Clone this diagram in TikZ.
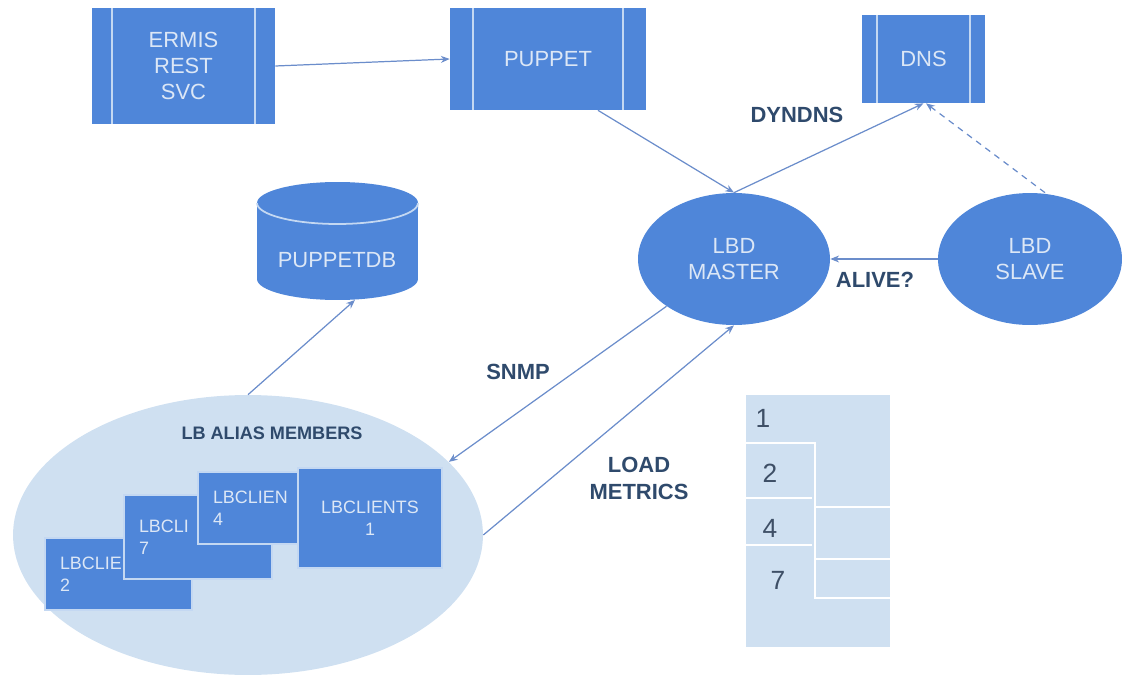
\documentclass[tikz,border=0pt]{standalone}
\usepackage{fontspec}
\setmainfont{Liberation Sans}
\usetikzlibrary{arrows.meta,shapes.geometric}

\definecolor{boxblue}{HTML}{4F86D9}
\definecolor{paleblue}{HTML}{CFE0F1}
\definecolor{boxtext}{HTML}{DCE7F6}
\definecolor{labelblue}{HTML}{2F4A6C}
\definecolor{arrowblue}{HTML}{6B8DCB}
\definecolor{numgrey}{HTML}{3E4F66}
\definecolor{rimline}{HTML}{C4D8F2}

\tikzset{
  svcbox/.style={rectangle, fill=boxblue, text=boxtext, align=center, inner sep=0pt,
    font=\fontsize{12.5}{14.7}\selectfont,
    path picture={
      \draw[rimline, line width=1pt] ([xshift=#1]path picture bounding box.north west)
        -- ([xshift=#1]path picture bounding box.south west);
      \draw[rimline, line width=1pt] ([xshift=-#1]path picture bounding box.north east)
        -- ([xshift=-#1]path picture bounding box.south east);}},
  lbdnode/.style={ellipse, fill=boxblue, text=boxtext, align=center, inner sep=0pt,
    font=\fontsize{12.5}{14.7}\selectfont},
  clientbox/.style={rectangle, fill=boxblue, draw=rimline, line width=0.6pt, text=boxtext,
    inner xsep=0.3cm, inner ysep=0pt, align=left, font=\fontsize{10.2}{12.5}\selectfont},
  flowarrow/.style={draw=arrowblue, line width=0.7pt, -{Stealth[length=5pt,width=4pt]}},
  flowlabel/.style={text=labelblue, align=center, font=\bfseries\fontsize{12.5}{15.3}\selectfont},
  tablenum/.style={text=numgrey, inner sep=0pt, font=\fontsize{15}{18}\selectfont}
}

\begin{document}
\begin{tikzpicture}[x=0.02cm, y=0.02cm]
  \useasboundingbox (0,0) rectangle (1134,-676);

  % services
  \node[svcbox=0.4cm, minimum width=3.66cm, minimum height=2.32cm] (ermis) at (183.5,-66) {ERMIS\\REST\\SVC};
  \node[svcbox=0.46cm, minimum width=3.92cm, minimum height=2.04cm] (puppet) at (548,-59) {PUPPET};
  \node[svcbox=0.3cm, minimum width=2.46cm, minimum height=1.76cm] (dns) at (923.5,-59) {DNS};

  % lbd daemons
  \node[lbdnode, minimum width=3.84cm, minimum height=2.64cm] (master) at (734,-259) {LBD\\MASTER};
  \node[lbdnode, minimum width=3.68cm, minimum height=2.64cm] (slave) at (1030,-259) {LBD\\SLAVE};

  % puppetdb cylinder
  \fill[boxblue] (257,-203) -- (257,-279)
    arc[start angle=180, end angle=360, x radius=1.61cm, y radius=0.42cm]
    -- (418,-203) arc[start angle=0, end angle=180, x radius=1.61cm, y radius=0.42cm] -- cycle;
  \draw[rimline, line width=1pt] (257,-203)
    arc[start angle=180, end angle=360, x radius=1.61cm, y radius=0.42cm];
  \node[text=boxtext, font=\fontsize{12.5}{15}\selectfont] (puppetdb) at (337,-260) {PUPPETDB};
  \coordinate (dbbottom) at (355,-300);

  % alias members, each box partly hidden by the next one
  \node[ellipse, fill=paleblue, minimum width=9.4cm, minimum height=5.6cm, inner sep=0pt] (alias) at (248,-535) {};
  \foreach \n/\txt/\cx/\cy/\w/\h/\tw in {2/LBCLIE/118.5/-574/2.94/1.44/2.34, 7/LBCLI/198/-537/2.96/1.68/2.36, 4/LBCLIEN/272/-508/2.96/1.44/2.36}
    \node[clientbox, minimum width=\w cm, minimum height=\h cm, text width=\tw cm] (client\n) at (\cx,\cy) {\txt\\\n};
  \node[clientbox, align=center, minimum width=2.88cm, minimum height=2cm, text width=2.28cm] (client1) at (370,-518) {LBCLIENTS\\1};
  \node[flowlabel, font=\bfseries\fontsize{10.3}{12}\selectfont] (aliaslabel) at (272,-433) {LB ALIAS MEMBERS};

  % table of members
  \fill[paleblue] (746,-395) rectangle (890,-647);
  \draw[white, line width=1.2pt] (746,-443) -- (815,-443) -- (815,-598) -- (890,-598);
  \foreach \y in {-498,-545}
    \draw[white, line width=1.2pt] (746,\y) -- (812,\y);
  \foreach \y in {-507,-559}
    \draw[white, line width=1.2pt] (815,\y) -- (890,\y);
  \node[tablenum] (num1) at (763,-418) {1};
  \node[tablenum] (num2) at (770,-473) {2};
  \node[tablenum] (num4) at (770,-528) {4};
  \node[tablenum] (num7) at (778,-580) {7};

  % connectors
  \draw[flowarrow] (ermis.east) -- (puppet.west);
  \draw[flowarrow] ([xshift=1cm]puppet.south) -- (master.north);
  \draw[flowarrow] (master.north) -- (dns.south);
  \draw[flowarrow, dash pattern=on 3.5pt off 3pt] ([xshift=0.3cm]slave.north) -- ([xshift=0.05cm]dns.south);
  \draw[flowarrow] (slave.west) -- (master.east);
  \draw[flowarrow] (master.215) -- (alias.20);
  \draw[flowarrow] (alias.east) -- (master.south);
  \draw[flowarrow] (alias.north) -- (dbbottom);

  % connector labels
  \node[flowlabel] (dyndns) at (797,-115) {DYNDNS};
  \node[flowlabel] (alive) at (875,-280) {ALIVE?};
  \node[flowlabel] (snmp) at (518,-372) {SNMP};
  \node[flowlabel] (loadmetrics) at (639,-478) {LOAD\\METRICS};
\end{tikzpicture}
\end{document}
